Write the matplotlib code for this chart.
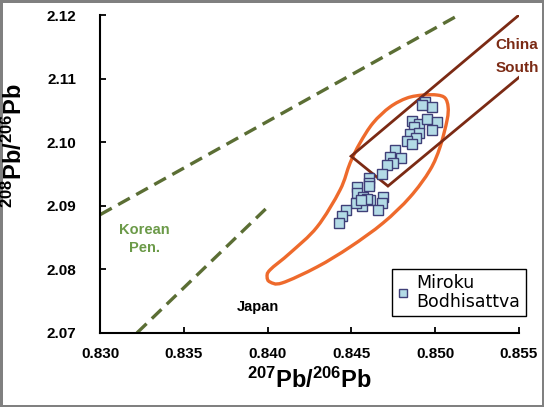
import matplotlib
matplotlib.use("Agg")
import matplotlib.pyplot as plt
import numpy as np
from matplotlib.path import Path
from matplotlib.patches import PathPatch

plt.rcParams["font.family"] = ["Liberation Sans", "DejaVu Sans"]
plt.rcParams["mathtext.fontset"] = "custom"
plt.rcParams["mathtext.bf"] = "Liberation Sans:bold"
plt.rcParams["mathtext.rm"] = "Liberation Sans"

# Miroku Bodhisattva samples
pb76 = [0.84939, 0.84981, 0.84921, 0.84862, 0.84903, 0.84951, 0.85011, 0.84981,
        0.84874, 0.84850, 0.84903, 0.84886, 0.84832, 0.84862, 0.84760, 0.84796,
        0.84730, 0.84748, 0.84713, 0.84683, 0.84605, 0.84605, 0.84605, 0.84534,
        0.84534, 0.84569, 0.84611, 0.84563, 0.84528, 0.84689, 0.84683, 0.84661,
        0.84468, 0.84444, 0.84426, 0.84593, 0.84555]
pb86 = [2.10632, 2.10554, 2.10585, 2.10333, 2.10286, 2.10365, 2.10318, 2.10192,
        2.10239, 2.10129, 2.10145, 2.10066, 2.10019, 2.09972, 2.09877, 2.09752,
        2.09767, 2.09673, 2.09642, 2.09500, 2.09437, 2.09359, 2.09311, 2.09296,
        2.09201, 2.09138, 2.09091, 2.08997, 2.09044, 2.09138, 2.09044, 2.08934,
        2.08934, 2.08840, 2.08730, 2.09107, 2.09091]

# Japan field outline (closed)
japan_x = [0.83997, 0.84014, 0.84086, 0.84295, 0.84492, 0.84689, 0.84850, 0.84969,
           0.85029, 0.85071, 0.85077, 0.85059, 0.85011, 0.84927, 0.84832, 0.84730,
           0.84629, 0.84551, 0.84492, 0.84432, 0.84295, 0.84134, 0.84014]
japan_y = [2.07881, 2.07802, 2.07786, 2.08038, 2.08352, 2.08730, 2.09138, 2.09563,
           2.09925, 2.10349, 2.10553, 2.10695, 2.10742, 2.10742, 2.10695, 2.10553,
           2.10302, 2.09987, 2.09673, 2.09248, 2.08667, 2.08258, 2.07991]

# China South field boundary (open towards upper right)
china_x = [0.8550, 0.84498, 0.84718, 0.8550]
china_y = [2.1200, 2.0978, 2.0931, 2.1102]

# Korean Peninsula boundary lines
korea_upper_x = [0.8300, 0.8514]
korea_upper_y = [2.0886, 2.1200]
korea_lower_x = [0.8322, 0.8400]
korea_lower_y = [2.0700, 2.0898]

xticks = [0.830, 0.835, 0.840, 0.845, 0.850, 0.855]
yticks = [2.07, 2.08, 2.09, 2.10, 2.11, 2.12]


def smooth_closed_path(xs, ys):
    # closed Catmull-Rom outline written as cubic Bezier segments
    p = np.column_stack([xs, ys])
    n = len(p)
    verts = [p[0]]
    codes = [Path.MOVETO]
    for i in range(n):
        p0, p1, p2, p3 = p[i - 1], p[i], p[(i + 1) % n], p[(i + 2) % n]
        verts += [p1 + (p2 - p0) / 6, p2 - (p3 - p1) / 6, p2]
        codes += [Path.CURVE4] * 3
    return Path(verts, codes)


fig = plt.figure(figsize=(5.44, 4.07), dpi=100)
fig.patch.set_edgecolor("#808080")
fig.patch.set_linewidth(2.5)
ax = fig.add_axes([0.184, 0.182, 0.770, 0.781])

green = "#5b6e34"
ax.plot(korea_upper_x, korea_upper_y, color=green, lw=2.4, dashes=(4, 2.2))
ax.plot(korea_lower_x, korea_lower_y, color=green, lw=2.4, dashes=(4, 2.2))
ax.add_patch(PathPatch(smooth_closed_path(japan_x, japan_y), fill=False,
                       edgecolor="#ee6a2c", lw=2.4))
ax.plot(china_x, china_y, color="#7b2a14", lw=2.0, solid_joinstyle="miter")
ax.plot(pb76, pb86, ls="none", marker="s", ms=7, mfc="#b3dbe6",
        mec="#3f3f78", mew=1.0, label="Miroku\nBodhisattva", zorder=5)

ax.text(0.83263, 2.0862, "Korean", color="#6b9a48", fontsize=10.5,
        fontweight="bold", ha="center", va="center")
ax.text(0.83263, 2.0833, "Pen.", color="#6b9a48", fontsize=10.5,
        fontweight="bold", ha="center", va="center")
ax.text(0.83943, 2.0741, "Japan", color="black", fontsize=10.5,
        fontweight="bold", ha="center", va="center")
ax.text(0.85488, 2.1153, "China", color="#7b2a14", fontsize=11,
        fontweight="bold", ha="center", va="center")
ax.text(0.85488, 2.1117, "South", color="#7b2a14", fontsize=11,
        fontweight="bold", ha="center", va="center")

ax.set_xlim(0.830, 0.855)
ax.set_ylim(2.07, 2.12)
ax.set_xticks(xticks)
ax.set_yticks(yticks)
ax.set_xticklabels([f"{v:.3f}" for v in xticks], fontweight="bold", fontsize=11)
ax.set_yticklabels([f"{v:.2f}" for v in yticks], fontweight="bold", fontsize=11)
ax.tick_params(axis="both", direction="in", length=4, width=1.3)
ax.tick_params(axis="y", pad=17)
ax.tick_params(axis="x", pad=10)
for side in ("top", "right"):
    ax.spines[side].set_visible(False)
for side in ("left", "bottom"):
    ax.spines[side].set_linewidth(1.5)

ax.set_xlabel(r"$\mathbf{^{207}Pb/^{206}Pb}$", fontsize=17, labelpad=5)
ax.set_ylabel(r"$\mathbf{^{208}Pb/^{206}Pb}$", fontsize=17)
ax.yaxis.set_label_coords(-0.175, 0.59)

leg = ax.legend(loc="lower right", bbox_to_anchor=(1.037, 0.026), fancybox=False,
                edgecolor="black", framealpha=1, handlelength=0.6,
                handletextpad=0.5, borderpad=0.3,
                prop={"family": "DejaVu Sans", "size": 12.5}, markerscale=0.9)
leg.get_frame().set_linewidth(1.0)
leg.get_texts()[0].set_linespacing(1.05)

fig.savefig("out.png", dpi=100)
